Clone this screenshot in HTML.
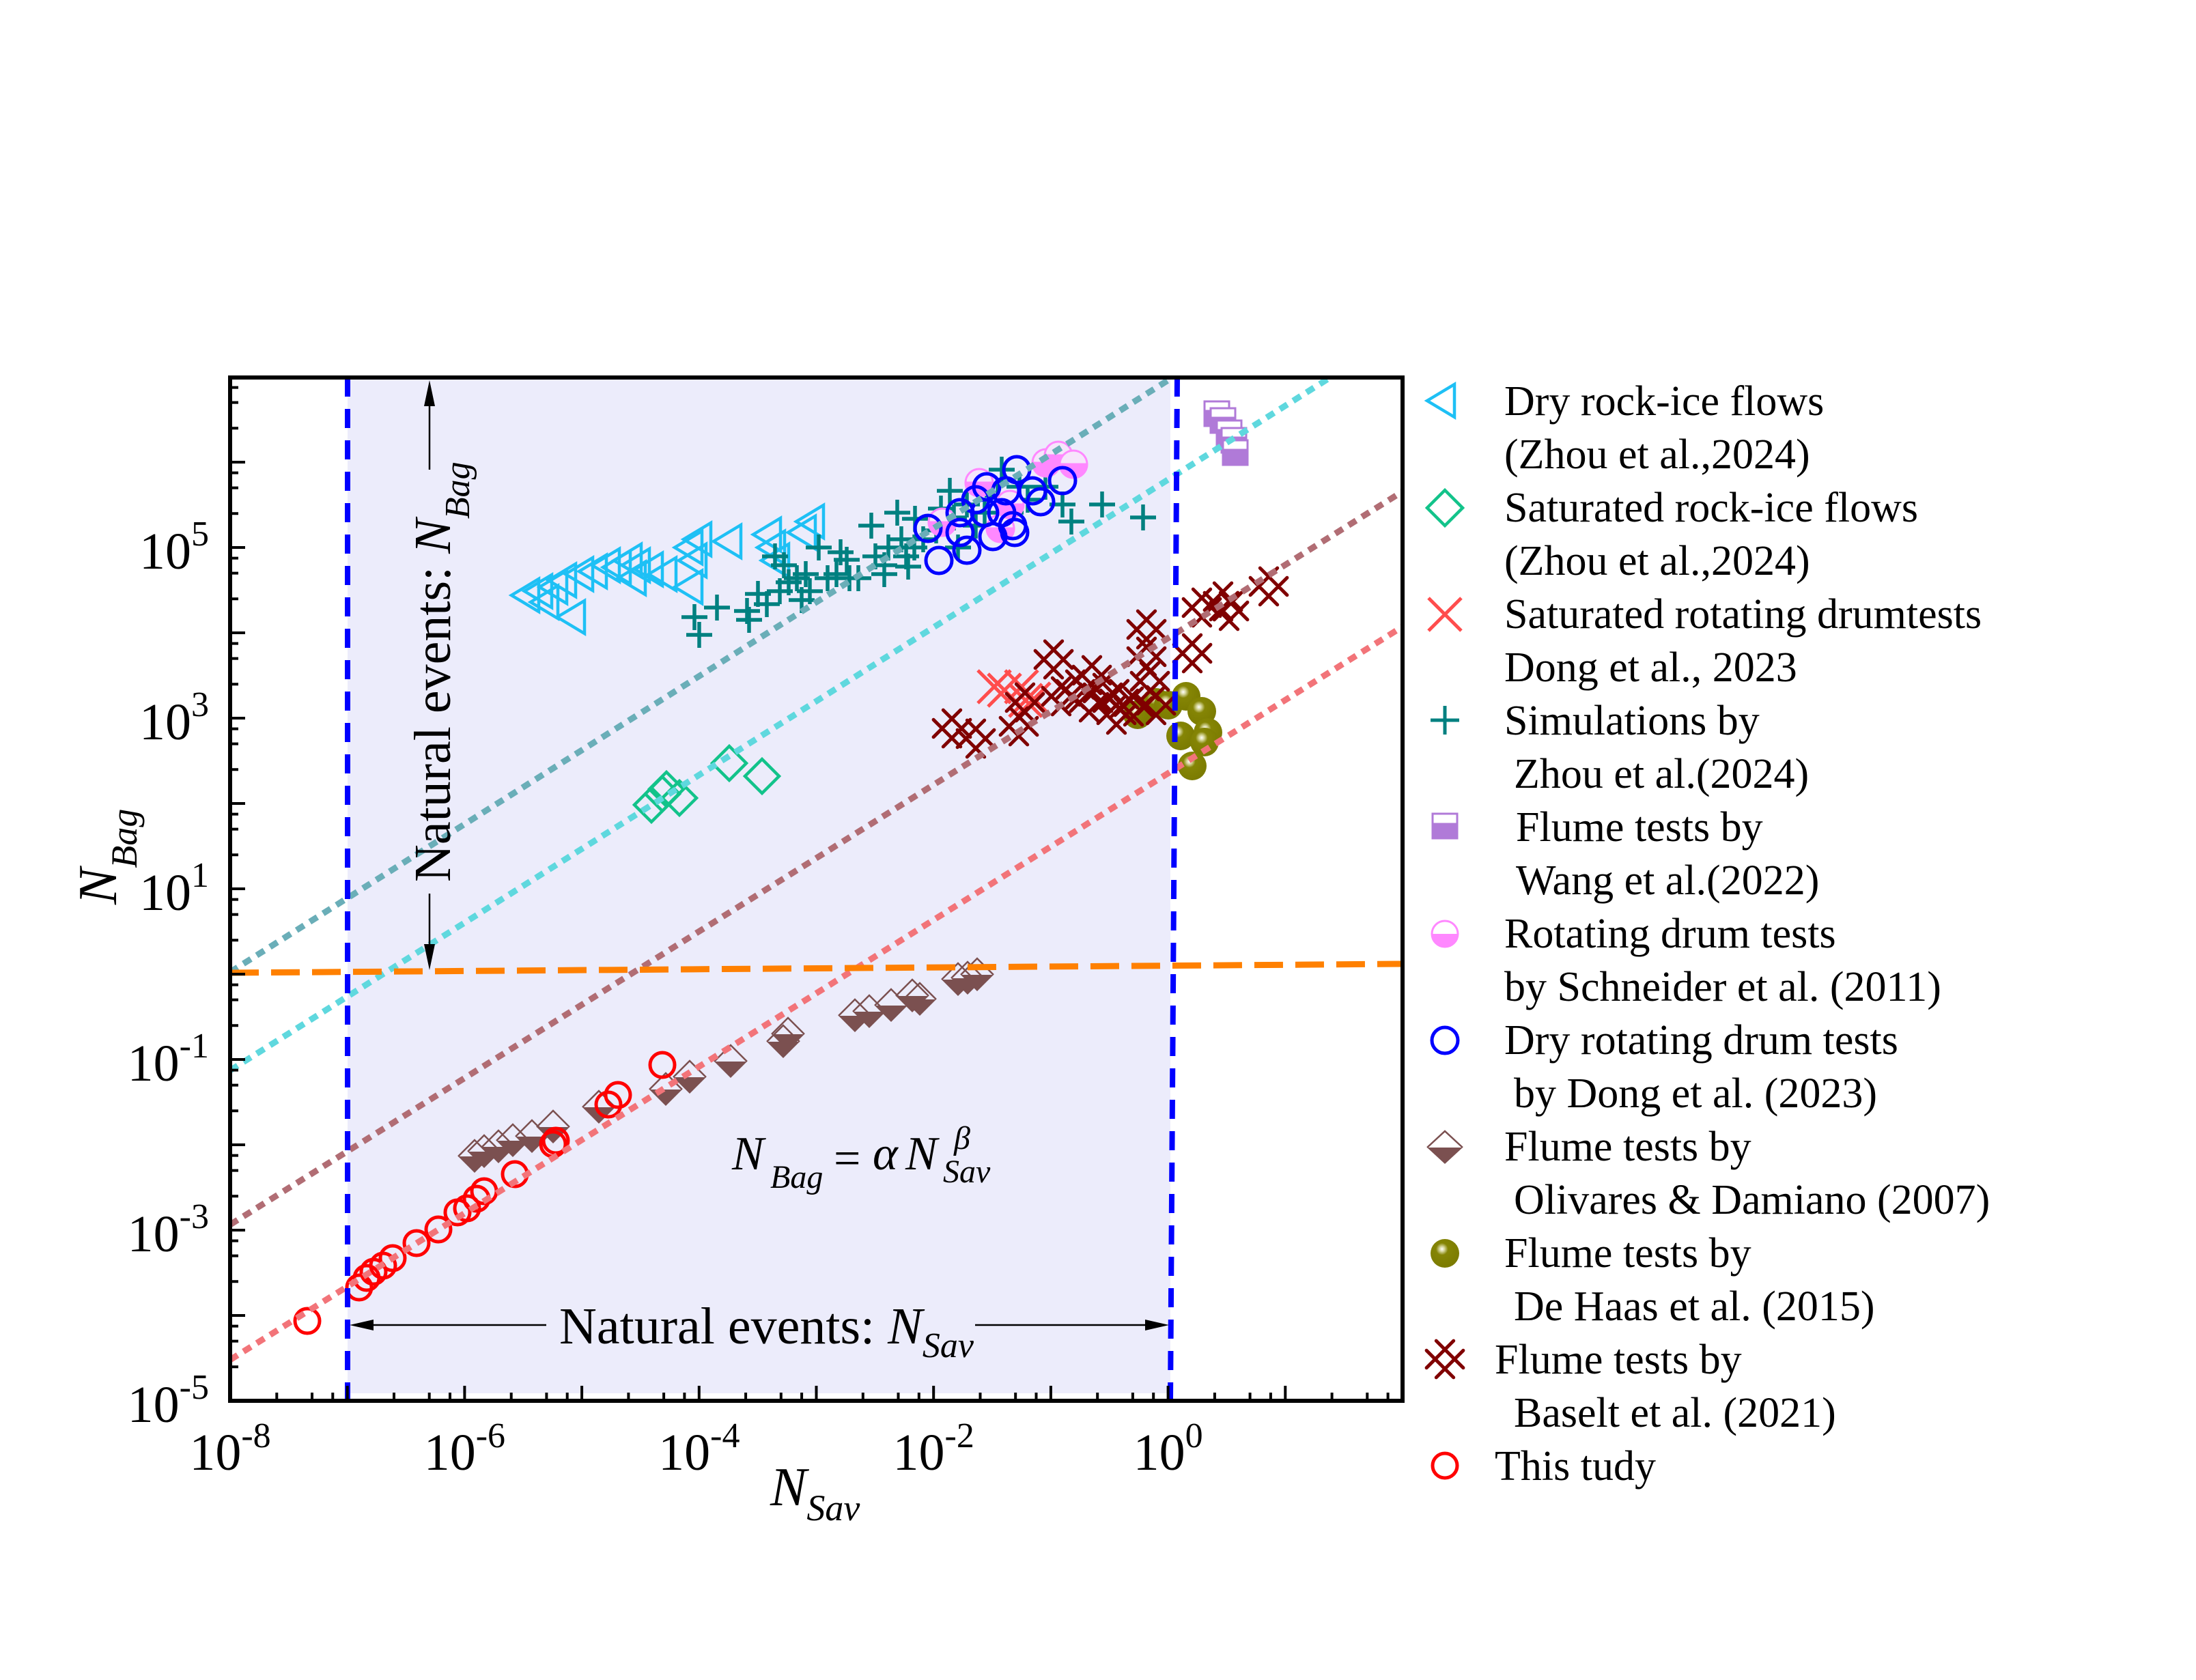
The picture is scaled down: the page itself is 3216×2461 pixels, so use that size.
<!DOCTYPE html>
<html>
<head>
<meta charset="utf-8">
<style>
html,body{margin:0;padding:0;background:#fff;}
svg{display:block;}
text{font-family:"Liberation Serif","Times New Roman",serif;fill:#000;}
</style>
</head>
<body>
<svg width="3216" height="2461" viewBox="0 0 3216 2461" xmlns="http://www.w3.org/2000/svg">
<defs>
<radialGradient id="ball" cx="0.4" cy="0.35" r="0.7">
<stop offset="0" stop-color="#ffffff"/>
<stop offset="0.12" stop-color="#d8d8a0"/>
<stop offset="0.3" stop-color="#858505"/>
<stop offset="1" stop-color="#7a7a00"/>
</radialGradient>
</defs>
<rect x="0" y="0" width="3216" height="2461" fill="#fff"/>
<rect x="509" y="553" width="1205" height="1488" fill="#ececfb"/>

<path fill="none" stroke="#1ec0f5" stroke-width="4.5" d="M749 872l40-24v48z M768 866l40-24v48z M777 882l40-24v48z M790 860l40-24v48z M816 904l40-24v48z M803 850l40-24v48z M828 841l40-24v48z M848 837l40-24v48z M867 828l40-24v48z M883 831l40-24v48z M899 821l40-24v48z M905 847l40-24v48z M911 828l40-24v48z M930 834l40-24v48z M950 841l40-24v48z M988 802l40-24v48z M994 821l40-24v48z M988 860l40-24v48z M1001 790l40-24v48z M1045 793l40-24v48z M1103 783l40-24v48z M1109 802l40-24v48z M1115 821l40-24v48z M1166 764l40-24v48z M1154 780l40-24v48z"/>

<path fill="none" stroke="#12c38a" stroke-width="4.5" d="M929 1179l25-25 25 25-25 25z M945 1163l25-25 25 25-25 25z M951 1156l25-25 25 25-25 25z M970 1169l25-25 25 25-25 25z M1043 1118l25-25 25 25-25 25z M1091 1137l25-25 25 25-25 25z"/>

<path fill="none" stroke="#008080" stroke-width="5.5" d="M998 904h38m-19-19v38 M1005 930h38m-19-19v38 M1075 895h38m-19-19v38 M1078 908h38m-19-19v38 M1104 885h38m-19-19v38 M1116 815h38m-19-19v38 M1129 828h38m-19-19v38 M1136 853h38m-19-19v38 M1148 847h38m-19-19v38 M1161 841h38m-19-19v38 M1167 866h38m-19-19v38 M1180 802h38m-19-19v38 M1193 847h38m-19-19v38 M1212 809h38m-19-19v38 M1225 847h38m-19-19v38 M1238 847h38m-19-19v38 M1257 770h38m-19-19v38 M1263 815h38m-19-19v38 M1276 828h38m-19-19v38 M1282 802h38m-19-19v38 M1295 751h38m-19-19v38 M1301 790h38m-19-19v38 M1308 815h38m-19-19v38 M1320 802h38m-19-19v38 M1333 790h38m-19-19v38 M1352 777h38m-19-19v38 M1359 745h38m-19-19v38 M1372 719h38m-19-19v38 M1378 758h38m-19-19v38 M1384 802h38m-19-19v38 M1397 739h38m-19-19v38 M1410 770h38m-19-19v38 M1423 751h38m-19-19v38 M1442 726h38m-19-19v38 M1448 688h38m-19-19v38 M1461 751h38m-19-19v38 M1474 713h38m-19-19v38 M1486 732h38m-19-19v38 M1512 713h38m-19-19v38 M1537 739h38m-19-19v38 M1550 764h38m-19-19v38 M1595 739h38m-19-19v38 M1655 758h38m-19-19v38 M1123 866h38m-19-19v38 M1155 879h38m-19-19v38 M1206 841h38m-19-19v38 M1276 841h38m-19-19v38 M1031 890h38m-19-19v38 M1091 870h38m-19-19v38 M1221 820h38m-19-19v38 M1321 760h38m-19-19v38 M1311 830h38m-19-19v38"/>

<g stroke="#b07ad8" stroke-width="3">
<rect x="1764" y="588" width="36" height="36" fill="#fff"/><rect x="1764" y="602" width="36" height="22" fill="#b07ad8"/>
<rect x="1773" y="598" width="36" height="36" fill="#fff"/><rect x="1773" y="612" width="36" height="22" fill="#b07ad8"/>
<rect x="1782" y="616" width="36" height="36" fill="#fff"/><rect x="1782" y="630" width="36" height="22" fill="#b07ad8"/>
<rect x="1789" y="627" width="36" height="36" fill="#fff"/><rect x="1789" y="641" width="36" height="22" fill="#b07ad8"/>
<rect x="1791" y="645" width="36" height="36" fill="#fff"/><rect x="1791" y="659" width="36" height="22" fill="#b07ad8"/>
</g>

<g stroke="#ff88ff" stroke-width="3" fill="#ff88ff">
<circle cx="1434" cy="707" r="20" fill="#f6e6fb"/><path d="M1414 707a20 20 0 0 0 40 0z"/>
<circle cx="1532" cy="678" r="20" fill="#f6e6fb"/><path d="M1512 678a20 20 0 0 0 40 0z"/>
<circle cx="1550" cy="667" r="20" fill="#f6e6fb"/><path d="M1530 667a20 20 0 0 0 40 0z"/>
<circle cx="1572" cy="680" r="20" fill="#f6e6fb"/><path d="M1552 680a20 20 0 0 0 40 0z"/>
<circle cx="1380" cy="765" r="20" fill="#f6e6fb"/><path d="M1360 765a20 20 0 0 0 40 0z"/>
<circle cx="1465" cy="774" r="20" fill="#f6e6fb"/><path d="M1445 774a20 20 0 0 0 40 0z"/>
<circle cx="1479" cy="739" r="20" fill="#f6e6fb"/><path d="M1459 739a20 20 0 0 0 40 0z"/>
</g>

<g fill="none" stroke="#0000ff" stroke-width="5">
<circle cx="1359" cy="774" r="19"/><circle cx="1375" cy="821" r="19"/><circle cx="1406" cy="751" r="19"/>
<circle cx="1416" cy="806" r="19"/><circle cx="1406" cy="780" r="19"/><circle cx="1429" cy="732" r="19"/>
<circle cx="1445" cy="713" r="19"/><circle cx="1454" cy="786" r="19"/><circle cx="1467" cy="751" r="19"/>
<circle cx="1473" cy="719" r="19"/><circle cx="1483" cy="770" r="19"/><circle cx="1489" cy="688" r="19"/>
<circle cx="1512" cy="719" r="19"/><circle cx="1524" cy="735" r="19"/><circle cx="1556" cy="704" r="19"/>
<circle cx="1486" cy="780" r="19"/><circle cx="1442" cy="751" r="19"/>
</g>

<path fill="none" stroke="#ff4d4d" stroke-width="5" d="M1432 982l48 48m0-48l-48 48 M1447 987l48 48m0-48l-48 48 M1472 982l48 48m0-48l-48 48 M1478 1002l48 48m0-48l-48 48 M1490 1000l48 48m0-48l-48 48"/>

<g fill="url(#ball)">
<circle cx="1666" cy="1047" r="21"/><circle cx="1693" cy="1029" r="21"/><circle cx="1711" cy="1033" r="21"/>
<circle cx="1737" cy="1020" r="21"/><circle cx="1760" cy="1042" r="21"/><circle cx="1769" cy="1073" r="21"/>
<circle cx="1729" cy="1078" r="21"/><circle cx="1764" cy="1087" r="21"/><circle cx="1746" cy="1122" r="21"/>
</g>

<path fill="none" stroke="#800000" stroke-width="5" stroke-linecap="round" d="M1394 1067m-12.7-26.9l39.6 39.6m-53.8-25.4l39.6 39.6m-25.4 0l39.6-39.6m-53.8 25.4l39.6-39.6 M1429 1082m-12.7-26.9l39.6 39.6m-53.8-25.4l39.6 39.6m-25.4 0l39.6-39.6m-53.8 25.4l39.6-39.6 M1492 1064m-12.7-26.9l39.6 39.6m-53.8-25.4l39.6 39.6m-25.4 0l39.6-39.6m-53.8 25.4l39.6-39.6 M1501 1029m-12.7-26.9l39.6 39.6m-53.8-25.4l39.6 39.6m-25.4 0l39.6-39.6m-53.8 25.4l39.6-39.6 M1543 966m-12.7-26.9l39.6 39.6m-53.8-25.4l39.6 39.6m-25.4 0l39.6-39.6m-53.8 25.4l39.6-39.6 M1554 1020m-12.7-26.9l39.6 39.6m-53.8-25.4l39.6 39.6m-25.4 0l39.6-39.6m-53.8 25.4l39.6-39.6 M1575 1010m-12.7-26.9l39.6 39.6m-53.8-25.4l39.6 39.6m-25.4 0l39.6-39.6m-53.8 25.4l39.6-39.6 M1599 989m-12.7-26.9l39.6 39.6m-53.8-25.4l39.6 39.6m-25.4 0l39.6-39.6m-53.8 25.4l39.6-39.6 M1595 1029m-12.7-26.9l39.6 39.6m-53.8-25.4l39.6 39.6m-25.4 0l39.6-39.6m-53.8 25.4l39.6-39.6 M1615 1015m-12.7-26.9l39.6 39.6m-53.8-25.4l39.6 39.6m-25.4 0l39.6-39.6m-53.8 25.4l39.6-39.6 M1639 1024m-12.7-26.9l39.6 39.6m-53.8-25.4l39.6 39.6m-25.4 0l39.6-39.6m-53.8 25.4l39.6-39.6 M1635 1047m-12.7-26.9l39.6 39.6m-53.8-25.4l39.6 39.6m-25.4 0l39.6-39.6m-53.8 25.4l39.6-39.6 M1660 1035m-12.7-26.9l39.6 39.6m-53.8-25.4l39.6 39.6m-25.4 0l39.6-39.6m-53.8 25.4l39.6-39.6 M1679 922m-12.7-26.9l39.6 39.6m-53.8-25.4l39.6 39.6m-25.4 0l39.6-39.6m-53.8 25.4l39.6-39.6 M1679 962m-12.7-26.9l39.6 39.6m-53.8-25.4l39.6 39.6m-25.4 0l39.6-39.6m-53.8 25.4l39.6-39.6 M1684 998m-12.7-26.9l39.6 39.6m-53.8-25.4l39.6 39.6m-25.4 0l39.6-39.6m-53.8 25.4l39.6-39.6 M1693 1033m-12.7-26.9l39.6 39.6m-53.8-25.4l39.6 39.6m-25.4 0l39.6-39.6m-53.8 25.4l39.6-39.6 M1746 957m-12.7-26.9l39.6 39.6m-53.8-25.4l39.6 39.6m-25.4 0l39.6-39.6m-53.8 25.4l39.6-39.6 M1760 890m-12.7-26.9l39.6 39.6m-53.8-25.4l39.6 39.6m-25.4 0l39.6-39.6m-53.8 25.4l39.6-39.6 M1791 881m-12.7-26.9l39.6 39.6m-53.8-25.4l39.6 39.6m-25.4 0l39.6-39.6m-53.8 25.4l39.6-39.6 M1800 895m-12.7-26.9l39.6 39.6m-53.8-25.4l39.6 39.6m-25.4 0l39.6-39.6m-53.8 25.4l39.6-39.6 M1858 859m-12.7-26.9l39.6 39.6m-53.8-25.4l39.6 39.6m-25.4 0l39.6-39.6m-53.8 25.4l39.6-39.6"/>

<path fill="#7b5050" d="M671 1694h48l-24 24z M685 1687h48l-24 24z M706 1680h48l-24 24z M727 1671h48l-24 24z M755 1665h48l-24 24z M786 1651h48l-24 24z M853 1622h48l-24 24z M951 1596h48l-24 24z M986 1578h48l-24 24z M1046 1555h48l-24 24z M1123 1526h48l-24 24z M1130 1515h48l-24 24z M1228 1488h48l-24 24z M1249 1482h48l-24 24z M1281 1473h48l-24 24z M1312 1459h48l-24 24z M1323 1464h48l-24 24z M1379 1435h48l-24 24z M1393 1433h48l-24 24z M1407 1428h48l-24 24z"/>
<path fill="none" stroke="#7b5050" stroke-width="2.5" d="M671 1694l24-24 24 24 M685 1687l24-24 24 24 M706 1680l24-24 24 24 M727 1671l24-24 24 24 M755 1665l24-24 24 24 M786 1651l24-24 24 24 M853 1622l24-24 24 24 M951 1596l24-24 24 24 M986 1578l24-24 24 24 M1046 1555l24-24 24 24 M1123 1526l24-24 24 24 M1130 1515l24-24 24 24 M1228 1488l24-24 24 24 M1249 1482l24-24 24 24 M1281 1473l24-24 24 24 M1312 1459l24-24 24 24 M1323 1464l24-24 24 24 M1379 1435l24-24 24 24 M1393 1433l24-24 24 24 M1407 1428l24-24 24 24"/>

<g fill="none" stroke="#ff0000" stroke-width="5">
<circle cx="450" cy="1935" r="18"/><circle cx="526" cy="1886" r="18"/><circle cx="537" cy="1872" r="18"/>
<circle cx="547" cy="1863" r="18"/><circle cx="561" cy="1854" r="18"/><circle cx="575" cy="1843" r="18"/>
<circle cx="610" cy="1821" r="18"/><circle cx="642" cy="1801" r="18"/><circle cx="670" cy="1776" r="18"/>
<circle cx="684" cy="1770" r="18"/><circle cx="698" cy="1756" r="18"/><circle cx="709" cy="1745" r="18"/>
<circle cx="754" cy="1720" r="18"/><circle cx="810" cy="1676" r="18"/><circle cx="814" cy="1671" r="18"/>
<circle cx="891" cy="1618" r="18"/><circle cx="905" cy="1604" r="18"/><circle cx="970" cy="1560" r="18"/>
</g>

<g stroke-width="9" stroke-dasharray="13 10" fill="none">
<line x1="337" y1="1424" x2="1717" y2="553" stroke="#6aaeb8"/>
<line x1="337" y1="1568" x2="1948" y2="553" stroke="#5fd8de"/>
<line x1="337" y1="1794" x2="2054" y2="720" stroke="#b16d74"/>
<line x1="337" y1="1992" x2="2054" y2="918" stroke="#f27479"/>
</g>
<line x1="337" y1="1425" x2="2054" y2="1412" stroke="#ff8000" stroke-width="9" stroke-dasharray="42 18"/>
<line x1="509" y1="553" x2="509" y2="2052" stroke="#0000ff" stroke-width="8" stroke-dasharray="28 18"/>
<line x1="1724" y1="553" x2="1714" y2="2052" stroke="#0000ff" stroke-width="8" stroke-dasharray="28 18"/>

<g stroke="#000" stroke-width="2.5">
<line x1="629" y1="592" x2="629" y2="688"/>
<line x1="629" y1="1309" x2="629" y2="1386"/>
<line x1="546" y1="1941" x2="800" y2="1941"/>
<line x1="1428" y1="1941" x2="1678" y2="1941"/>
</g>
<path fill="#000" d="M629 557l-8 38h16z M629 1421l-8-38h16z M512 1941l35-8v16z M1712 1941l-35-8v16z"/>

<text transform="translate(659,1292) rotate(-90)" font-size="76">Natural events: <tspan font-style="italic">N</tspan><tspan font-style="italic" font-size="52" dy="28">Bag</tspan></text>
<text x="819" y="1968" font-size="76">Natural events: <tspan font-style="italic">N</tspan><tspan font-style="italic" font-size="52" dy="20">Sav</tspan></text>

<text x="1072" y="1713" font-size="70" font-style="italic">N</text>
<text x="1128" y="1740" font-size="48" font-style="italic">Bag</text>
<text x="1221" y="1720" font-size="70">=</text>
<text x="1278" y="1713" font-size="70" font-style="italic">α</text>
<text x="1326" y="1713" font-size="70" font-style="italic">N</text>
<text x="1397" y="1683" font-size="48" font-style="italic">β</text>
<text x="1381" y="1732" font-size="48" font-style="italic">Sav</text>

<path stroke="#000" stroke-width="4" fill="none" d="M508.7 2052v-22 M680.4 2052v-22 M852.1 2052v-22 M1023.8 2052v-22 M1195.5 2052v-22 M1367.2 2052v-22 M1538.9 2052v-22 M1710.6 2052v-22 M1882.3 2052v-22 M405.3 2052v-12 M457 2052v-12 M487.3 2052v-12 M577 2052v-12 M628.7 2052v-12 M659 2052v-12 M748.7 2052v-12 M800.4 2052v-12 M830.7 2052v-12 M920.4 2052v-12 M972.1 2052v-12 M1002.4 2052v-12 M1092.1 2052v-12 M1143.8 2052v-12 M1174.1 2052v-12 M1263.8 2052v-12 M1315.5 2052v-12 M1345.8 2052v-12 M1435.5 2052v-12 M1487.2 2052v-12 M1517.5 2052v-12 M1607.2 2052v-12 M1658.9 2052v-12 M1689.2 2052v-12 M1778.9 2052v-12 M1830.6 2052v-12 M1860.9 2052v-12 M1950.6 2052v-12 M2002.3 2052v-12 M2032.6 2052v-12
M337 1927h22 M337 1802h22 M337 1677h22 M337 1552h22 M337 1427h22 M337 1302h22 M337 1177h22 M337 1052h22 M337 927h22 M337 802h22 M337 677h22
M337 2002.2h12 M337 1964.6h12 M337 1942.6h12 M337 1877.2h12 M337 1839.6h12 M337 1817.6h12 M337 1752.2h12 M337 1714.6h12 M337 1692.6h12 M337 1627.2h12 M337 1589.6h12 M337 1567.6h12 M337 1502.2h12 M337 1464.6h12 M337 1442.6h12 M337 1377.2h12 M337 1339.6h12 M337 1317.6h12 M337 1252.2h12 M337 1214.6h12 M337 1192.6h12 M337 1127.2h12 M337 1089.6h12 M337 1067.6h12 M337 1002.2h12 M337 964.6h12 M337 942.6h12 M337 877.2h12 M337 839.6h12 M337 817.6h12 M337 752.2h12 M337 714.6h12 M337 692.6h12 M337 627.2h12 M337 589.6h12 M337 567.6h12"/>

<rect x="337" y="553" width="1717" height="1499" fill="none" stroke="#000" stroke-width="6"/>

<g font-size="76" text-anchor="middle">
<text x="337" y="2153">10<tspan dy="-33" font-size="52">-8</tspan></text>
<text x="680.4" y="2153">10<tspan dy="-33" font-size="52">-6</tspan></text>
<text x="1023.8" y="2153">10<tspan dy="-33" font-size="52">-4</tspan></text>
<text x="1367.2" y="2153">10<tspan dy="-33" font-size="52">-2</tspan></text>
<text x="1710.6" y="2153">10<tspan dy="-33" font-size="52">0</tspan></text>
</g>
<g font-size="76" text-anchor="end">
<text x="306" y="833">10<tspan dy="-34" font-size="52">5</tspan></text>
<text x="306" y="1083">10<tspan dy="-34" font-size="52">3</tspan></text>
<text x="306" y="1333">10<tspan dy="-34" font-size="52">1</tspan></text>
<text x="306" y="1583">10<tspan dy="-34" font-size="52">-1</tspan></text>
<text x="306" y="1833">10<tspan dy="-34" font-size="52">-3</tspan></text>
<text x="306" y="2083">10<tspan dy="-34" font-size="52">-5</tspan></text>
</g>

<text transform="translate(170,1325) rotate(-90)" font-size="80" font-style="italic">N<tspan font-size="54" dy="30">Bag</tspan></text>
<text x="1128" y="2205" font-size="80" font-style="italic">N<tspan font-size="54" dy="22">Sav</tspan></text>

<path fill="none" stroke="#1ec0f5" stroke-width="4.5" d="M2090 587l40-24v48z"/>
<path fill="none" stroke="#12c38a" stroke-width="4.5" d="M2090 744l26-26 26 26-26 26z"/>
<path fill="none" stroke="#ff4d4d" stroke-width="5" d="M2092 876l48 48m0-48l-48 48"/>
<path fill="none" stroke="#008080" stroke-width="5" d="M2095 1055h42m-21-21v42"/>
<rect x="2098" y="1192" width="36" height="36" fill="#fff" stroke="#b07ad8" stroke-width="3"/>
<rect x="2098" y="1207" width="36" height="21" fill="#b07ad8" stroke="#b07ad8" stroke-width="3"/>
<circle cx="2116" cy="1368" r="19" fill="#fff" stroke="#ff88ff" stroke-width="3"/>
<path fill="#ff88ff" d="M2097 1368a19 19 0 0 0 38 0z"/>
<circle cx="2116" cy="1524" r="19" fill="none" stroke="#0000ff" stroke-width="5"/>
<path fill="#7b5050" d="M2090 1681h52l-26 24z"/>
<path fill="none" stroke="#7b5050" stroke-width="2.5" d="M2090 1681l26-24 26 24"/>
<circle cx="2116" cy="1836" r="21" fill="url(#ball)"/>
<path fill="none" stroke="#800000" stroke-width="5" stroke-linecap="round" d="M2116 1991m-12.7-26.9l39.6 39.6m-53.8-25.4l39.6 39.6m-25.4 0l39.6-39.6m-53.8 25.4l39.6-39.6"/>
<circle cx="2116" cy="2147" r="18" fill="none" stroke="#ff0000" stroke-width="5"/>

<g font-size="62">
<text x="2203" y="608">Dry rock-ice flows</text>
<text x="2203" y="686">(Zhou et al.,2024)</text>
<text x="2203" y="764">Saturated rock-ice flows</text>
<text x="2203" y="842">(Zhou et al.,2024)</text>
<text x="2203" y="920">Saturated rotating drumtests</text>
<text x="2203" y="998">Dong et al., 2023</text>
<text x="2203" y="1076">Simulations by</text>
<text x="2217" y="1154">Zhou et al.(2024)</text>
<text x="2220" y="1232">Flume tests by</text>
<text x="2220" y="1310">Wang et al.(2022)</text>
<text x="2203" y="1388">Rotating drum tests</text>
<text x="2203" y="1466">by Schneider et al. (2011)</text>
<text x="2203" y="1544">Dry rotating drum tests</text>
<text x="2217" y="1622">by Dong et al. (2023)</text>
<text x="2203" y="1700">Flume tests by</text>
<text x="2217" y="1778">Olivares &amp; Damiano (2007)</text>
<text x="2203" y="1856">Flume tests by</text>
<text x="2217" y="1934">De Haas et al. (2015)</text>
<text x="2189" y="2012">Flume tests by</text>
<text x="2217" y="2090">Baselt et al. (2021)</text>
<text x="2189" y="2168">This tudy</text>
</g>
</svg>
</body>
</html>
